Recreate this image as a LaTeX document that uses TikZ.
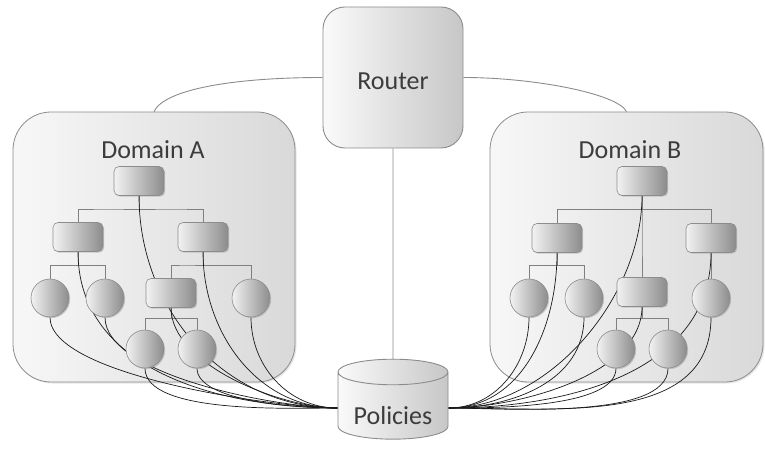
\documentclass[tikz,border=0pt]{standalone}
\usepackage{fontspec}
\setmainfont{Carlito}
\usetikzlibrary{shapes.geometric,shadows,calc}
\pgfdeclarelayer{back}
\pgfdeclarelayer{links}
\pgfsetlayers{back,links,main}
\definecolor{txt}{HTML}{3C3C3C}
\definecolor{rim}{HTML}{8C8C8C}

\begin{document}
\begin{tikzpicture}[x=1pt,y=-1pt]
	\tikzstyle{zone} = [rectangle, rounded corners=38pt, draw=rim, line width=0.8pt, left color=black!3, right color=black!15, drop shadow={opacity=0.2, shadow xshift=1.5pt, shadow yshift=-1.5pt}]
	\tikzstyle{router} = [rectangle, rounded corners=22pt, draw=rim, line width=0.9pt, left color=black!2, right color=black!22, minimum width=140pt, minimum height=141pt, text height=25pt, text=txt, font=\fontsize{26}{30}\selectfont]
	\tikzstyle{store} = [cylinder, shape border rotate=90, aspect=0.3, draw=rim, line width=0.9pt, left color=black!2, right color=black!22, minimum width=110pt, minimum height=80pt, text height=34pt, text=txt, font=\fontsize{26}{30}\selectfont]
	\tikzstyle{box} = [rectangle, rounded corners=5pt, draw=black!45, line width=0.6pt, left color=black!5, right color=black!45, minimum width=50pt, minimum height=29pt, inner sep=0pt, drop shadow={opacity=0.35, shadow xshift=1.2pt, shadow yshift=-1.2pt}]
	\tikzstyle{leaf} = [circle, draw=black!45, line width=0.6pt, left color=black!5, right color=black!45, minimum size=38pt, inner sep=0pt, drop shadow={opacity=0.35, shadow xshift=1.2pt, shadow yshift=-1.2pt}]
	\tikzstyle{tree} = [draw=black!50, line width=0.7pt, to path={|- ($(\tikztostart)!.5!(\tikztotarget)$) -| (\tikztotarget)}]
	\tikzstyle{link} = [draw=black!90, line width=0.7pt]
	\tikzstyle{wire} = [draw=black!45, line width=0.9pt]
	\tikzstyle{lbl} = [text=txt, font=\fontsize{26}{30}\selectfont]

	\useasboundingbox (0,0) rectangle (765,454);

	\begin{pgfonlayer}{back}
		\node[zone, minimum width=282pt, minimum height=270pt] (domA) at (154,247) {};
		\node[zone, minimum width=273pt, minimum height=270pt] (domB) at (626.5,247) {};
	\end{pgfonlayer}
	\node[lbl] (labA) at (153,150) {Domain A};
	\node[lbl] (labB) at (630,150) {Domain B};

	\node[router] (router) at (393,77.5) {Router};
	\node[store] (pol) at (393,408) {Policies};

	\foreach \name/\x/\y in {aroot/139/181, aleft/78/237, aright/203/237, amid/171/293,
		broot/642/181, bleft/557/238, bright/711/238, bmid/642/292}
		\node[box] (\name) at (\x, \y) {};

	\foreach \name/\x/\y in {aleaf1/50/298, aleaf2/105/298, aleaf3/251/298, aleaf4/145/349, aleaf5/197/349,
		bleaf1/529/298, bleaf2/584/298, bleaf3/711/298, bleaf4/616/349, bleaf5/668/349}
		\node[leaf] (\name) at (\x, \y) {};

	\begin{pgfonlayer}{links}
		\draw[wire] (router.west) .. controls +(-90,0) and +(10,-22) .. (domA.north);
		\draw[wire] (router.east) .. controls +(70,0) and +(-9,-18) .. (domB.north);
		\draw[wire] (router.south) -- (pol.north);

		\foreach \from/\to in {aroot/aleft, aroot/aright, aleft/aleaf1, aleft/aleaf2, aright/amid, aright/aleaf3, amid/aleaf4, amid/aleaf5,
			broot/bleft, broot/bright, broot/bmid, bleft/bleaf1, bleft/bleaf2, bright/bleaf3, bmid/bleaf4, bmid/bleaf5}
			\path[tree] (\from.south) to (\to.north);

		% every node is tied to the policy store
		\foreach \from/\loose in {aroot/1, aleft/1, aright/1, amid/0.75, aleaf1/0.5, aleaf2/0.6, aleaf3/1, aleaf4/0.6, aleaf5/0.6}
			\draw[link] (\from.south) to[out=-90, in=180, looseness=\loose] (pol.west);
		\foreach \from/\loose in {broot/0.9, bleft/1, bright/1, bmid/0.8, bleaf1/1, bleaf2/1, bleaf3/1, bleaf4/0.6, bleaf5/0.6}
			\draw[link] (\from.south) to[out=-90, in=0, looseness=\loose] (pol.east);
	\end{pgfonlayer}
\end{tikzpicture}
\end{document}
